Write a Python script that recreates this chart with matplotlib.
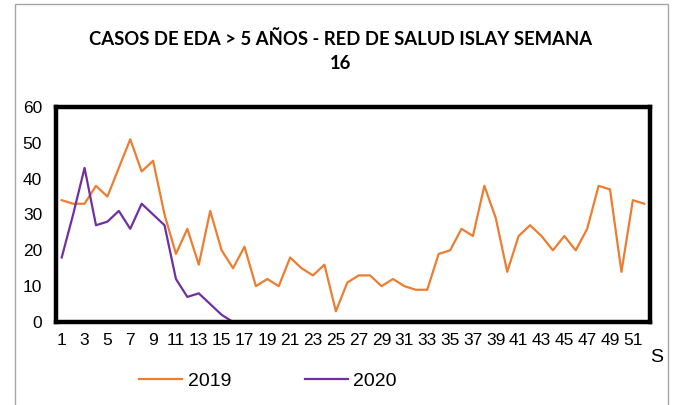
import matplotlib.pyplot as plt
from matplotlib.patches import Rectangle

weeks_2019 = list(range(1, 53))
cases_2019 = [34, 33, 33, 38, 35, 43, 51, 42, 45, 30, 19, 26, 16, 31, 20, 15, 21, 10,
              12, 10, 18, 15, 13, 16, 3, 11, 13, 13, 10, 12, 10, 9, 9, 19, 20, 26,
              24, 38, 29, 14, 24, 27, 24, 20, 24, 20, 26, 38, 37, 14, 34, 33]
weeks_2020 = list(range(1, 17))
cases_2020 = [18, 30, 43, 27, 28, 31, 26, 33, 30, 27, 12, 7, 8, 5, 2, 0]
xtick_labels = [str(w) for w in range(1, 53, 2)]
title = 'CASOS DE EDA > 5 AÑOS - RED DE SALUD ISLAY SEMANA\n16'

plt.rcParams['font.family'] = ['Liberation Sans', 'DejaVu Sans']

fig = plt.figure(figsize=(6.76, 4.05), dpi=100)
ax = fig.add_axes([56/676, 1 - 322/405, (650-56)/676, (322-107)/405])

ax.plot(weeks_2019, cases_2019, color='#ED7D31', lw=1.6, label='2019')
ax.plot(weeks_2020, cases_2020, color='#7030A0', lw=1.6, label='2020')

ax.set_xlim(0.5, 52.5)
ax.set_ylim(0, 60)
ax.set_yticks(range(0, 61, 10))
ax.set_xticks(range(1, 53, 2))
ax.set_xticklabels(xtick_labels)
ax.tick_params(axis='both', length=0, labelsize=12.5)
ax.tick_params(axis='y', pad=10)
ax.tick_params(axis='x', pad=8)
for s in ax.spines.values():
    s.set_linewidth(3.2)
    s.set_color('black')

fig.text(650/676, 1 - 358/405, 'S', fontsize=14, ha='left', va='center')
fig.text(341/676, 1 - 51/405, title, fontsize=13.3, fontweight='bold',
         family=['Lato', 'DejaVu Sans'], ha='center', va='center', linespacing=1.45)

fig.legend(loc='center', bbox_to_anchor=(268/676, 1 - 381/405), ncol=2,
           frameon=False, fontsize=14, handlelength=2.2, columnspacing=3.8,
           handletextpad=0.3)

fig.patches.append(Rectangle((15/676, -0.1), (668-15)/676, 1.1 - 4/405,
                             transform=fig.transFigure, fill=False,
                             edgecolor='#A6A6A6', lw=1))

fig.savefig('out.png', dpi=100)
